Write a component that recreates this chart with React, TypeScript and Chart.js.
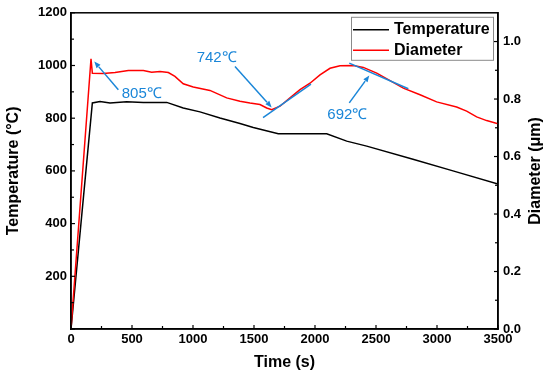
import React, { useEffect, useRef } from 'react';
import { Chart, registerables } from 'chart.js';

Chart.register(...registerables);

// ---- data ----
const tempTimes = [0, 175, 238, 320, 456, 593, 785, 920, 1057, 1221, 1385, 1494, 1699, 2096, 2260, 2424, 2803, 3131, 3500];
const tempValues = [0, 858, 863, 858, 862, 860, 860, 839, 824, 801, 780, 765, 741, 741, 713, 694, 644, 600, 550];

const diamTimes = [0, 164, 175, 264, 361, 470, 593, 661, 730, 798, 852, 920, 1002, 1139, 1276, 1385, 1467, 1549, 1604, 1645, 1713, 1795, 1877, 1959, 2041, 2123, 2205, 2314, 2396, 2506, 2615, 2724, 2861, 2997, 3161, 3243, 3325, 3407, 3500];
const diamValues = [0, 0.94, 0.89, 0.889, 0.892, 0.899, 0.899, 0.893, 0.896, 0.892, 0.879, 0.853, 0.842, 0.83, 0.804, 0.792, 0.786, 0.781, 0.769, 0.763, 0.775, 0.804, 0.833, 0.855, 0.884, 0.907, 0.916, 0.917, 0.91, 0.89, 0.864, 0.838, 0.815, 0.79, 0.772, 0.758, 0.738, 0.725, 0.714];

const xTicks = [0, 500, 1000, 1500, 2000, 2500, 3000, 3500];
const leftTicks = [200, 400, 600, 800, 1000, 1200];
const rightTicks = [0, 0.2, 0.4, 0.6, 0.8, 1.0];

const seriesNames = ['Temperature', 'Diameter'];
const axisTitles = ['Time (s)', 'Temperature (°C)', 'Diameter (μm)'];

// annotations in data units (time, temperature)
const noteTexts = ['805℃', '742℃', '692℃'];
const noteTimes = [416, 1030, 2101];
const noteTemps = [893, 1028, 814];
const arrowFrom = [[388, 908], [1344, 996], [2281, 858]];
const arrowTo = [[191, 1015], [1645, 841], [2445, 962]];
const tangentFrom = [[1574, 802], [2281, 1009]];
const tangentTo = [[1967, 929], [2765, 912]];

const FONT = "Arial, 'Liberation Sans', Helvetica, sans-serif";
const BLUE = '#1a86d8';

const decorPlugin = {
  id: 'decor',
  afterDraw(chart: any) {
    const { ctx, chartArea: a, scales } = chart;
    const sx = scales.x, sy = scales.y, sy1 = scales.y1;
    ctx.save();
    ctx.strokeStyle = '#000';
    ctx.lineWidth = 1.5;
    ctx.strokeRect(a.left, a.top, a.right - a.left, a.bottom - a.top);

    const seg = (x1: number, y1: number, x2: number, y2: number) => {
      ctx.beginPath();
      ctx.moveTo(x1, y1);
      ctx.lineTo(x2, y2);
      ctx.stroke();
    };
    ctx.lineWidth = 1.2;
    // x ticks
    xTicks.forEach((v) => { const p = sx.getPixelForValue(v); seg(p, a.bottom, p, a.bottom - 4); });
    for (let i = 0; i < xTicks.length - 1; i++) {
      const p = sx.getPixelForValue((xTicks[i] + xTicks[i + 1]) / 2);
      seg(p, a.bottom, p, a.bottom - 3);
    }
    // left ticks
    const lt = [0, ...leftTicks];
    lt.forEach((v) => { const p = sy.getPixelForValue(v); seg(a.left, p, a.left + 4, p); });
    for (let i = 0; i < lt.length - 1; i++) {
      const p = sy.getPixelForValue((lt[i] + lt[i + 1]) / 2);
      seg(a.left, p, a.left + 3, p);
    }
    // right ticks
    rightTicks.forEach((v) => { const p = sy1.getPixelForValue(v); seg(a.right, p, a.right - 4, p); });
    for (let i = 0; i < rightTicks.length - 1; i++) {
      const p = sy1.getPixelForValue((rightTicks[i] + rightTicks[i + 1]) / 2);
      seg(a.right, p, a.right - 3, p);
    }

    // annotations
    ctx.strokeStyle = BLUE;
    ctx.fillStyle = BLUE;
    ctx.lineWidth = 1.5;
    tangentFrom.forEach((f, i) => {
      const t = tangentTo[i];
      seg(sx.getPixelForValue(f[0]), sy.getPixelForValue(f[1]), sx.getPixelForValue(t[0]), sy.getPixelForValue(t[1]));
    });
    arrowFrom.forEach((f, i) => {
      const t = arrowTo[i];
      const x0 = sx.getPixelForValue(f[0]), y0 = sy.getPixelForValue(f[1]);
      const x1 = sx.getPixelForValue(t[0]), y1 = sy.getPixelForValue(t[1]);
      const ang = Math.atan2(y1 - y0, x1 - x0);
      const hl = 7;
      const bx = x1 - hl * Math.cos(ang), by = y1 - hl * Math.sin(ang);
      seg(x0, y0, bx, by);
      ctx.beginPath();
      ctx.moveTo(x1, y1);
      ctx.lineTo(x1 - hl * Math.cos(ang - 0.38), y1 - hl * Math.sin(ang - 0.38));
      ctx.lineTo(x1 - hl * Math.cos(ang + 0.38), y1 - hl * Math.sin(ang + 0.38));
      ctx.closePath();
      ctx.fill();
    });
    ctx.font = `15px ${FONT}`;
    ctx.textAlign = 'left';
    ctx.textBaseline = 'middle';
    noteTexts.forEach((s, i) => {
      ctx.fillText(s, sx.getPixelForValue(noteTimes[i]), sy.getPixelForValue(noteTemps[i]));
    });

    // legend
    const bx0 = a.right - 147, by0 = a.top + 4, bw = 142, bh = 43;
    ctx.fillStyle = '#fff';
    ctx.fillRect(bx0, by0, bw, bh);
    ctx.strokeStyle = '#8a8a8a';
    ctx.lineWidth = 1;
    ctx.strokeRect(bx0 + 0.5, by0 + 0.5, bw, bh);
    const colors = ['#000000', '#ff0000'];
    ctx.font = `bold 16px ${FONT}`;
    ctx.textBaseline = 'middle';
    ctx.textAlign = 'left';
    seriesNames.forEach((n, i) => {
      const yy = by0 + 13 + i * 20.5;
      ctx.strokeStyle = colors[i];
      ctx.lineWidth = 1.5;
      seg(bx0 + 2, yy, bx0 + 38, yy);
      ctx.fillStyle = '#000';
      ctx.fillText(n, bx0 + 43, yy);
    });

    // axis titles
    ctx.fillStyle = '#000';
    ctx.font = `bold 16px ${FONT}`;
    ctx.textAlign = 'center';
    ctx.textBaseline = 'middle';
    const cy = (a.top + a.bottom) / 2;
    ctx.fillText(axisTitles[0], (a.left + a.right) / 2, 363);
    ctx.save();
    ctx.translate(14, cy);
    ctx.rotate(-Math.PI / 2);
    ctx.fillText(axisTitles[1], 0, 0);
    ctx.restore();
    ctx.save();
    ctx.translate(536, cy);
    ctx.rotate(-Math.PI / 2);
    ctx.fillText(axisTitles[2], 0, 0);
    ctx.restore();

    ctx.restore();
  },
};

export default function App() {
  const ref = useRef<HTMLCanvasElement | null>(null);
  useEffect(() => {
    if (!ref.current) return;
    const tickFont = { family: FONT, size: 13, weight: 'bold' as const };
    const chart = new Chart(ref.current, {
      type: 'line',
      data: {
        datasets: [
          {
            label: seriesNames[0],
            data: tempTimes.map((t, i) => ({ x: t, y: tempValues[i] })),
            borderColor: '#000000',
            borderWidth: 1.5,
            pointRadius: 0,
            tension: 0,
            yAxisID: 'y',
            order: 1,
          },
          {
            label: seriesNames[1],
            data: diamTimes.map((t, i) => ({ x: t, y: diamValues[i] })),
            borderColor: '#ff0000',
            borderWidth: 1.5,
            pointRadius: 0,
            tension: 0,
            yAxisID: 'y1',
            order: 0,
          },
        ],
      },
      options: {
        responsive: false,
        animation: false,
        layout: { padding: { top: 11, left: 0, right: 0, bottom: 0 } },
        plugins: { legend: { display: false }, tooltip: { enabled: false } },
        scales: {
          x: {
            type: 'linear',
            position: 'bottom',
            min: 0,
            max: 3500,
            afterBuildTicks: (s: any) => { s.ticks = xTicks.map((v) => ({ value: v })); },
            afterFit: (s: any) => { s.height = 50; },
            grid: { display: false, drawTicks: false },
            border: { display: true, color: '#000', width: 1.5 },
            ticks: { font: tickFont, color: '#000', padding: 3, maxRotation: 0, autoSkip: false, callback: (v: any) => String(v) },
          },
          y: {
            type: 'linear',
            position: 'left',
            min: 0,
            max: 1200,
            afterBuildTicks: (s: any) => { s.ticks = leftTicks.map((v) => ({ value: v })); },
            afterFit: (s: any) => { s.width = 71; },
            grid: { display: false, drawTicks: false },
            border: { display: true, color: '#000', width: 1.5 },
            ticks: { font: tickFont, color: '#000', padding: 4, autoSkip: false, callback: (v: any) => String(v) },
          },
          y1: {
            type: 'linear',
            position: 'right',
            min: 0,
            max: 1.1,
            afterBuildTicks: (s: any) => { s.ticks = rightTicks.map((v) => ({ value: v })); },
            afterFit: (s: any) => { s.width = 52; },
            grid: { display: false, drawTicks: false },
            border: { display: true, color: '#000', width: 1.5 },
            ticks: {
              font: tickFont,
              color: '#000',
              padding: 5,
              autoSkip: false,
              callback: (v: any) => Number(v).toFixed(1),
            },
          },
        },
      },
      plugins: [decorPlugin],
    });
    return () => chart.destroy();
  }, []);
  return (
    <div style={{ position: 'absolute', left: 0, top: 0, width: 550, height: 379, background: '#fff' }}>
      <canvas ref={ref} width={550} height={379} style={{ display: 'block' }} />
    </div>
  );
}
